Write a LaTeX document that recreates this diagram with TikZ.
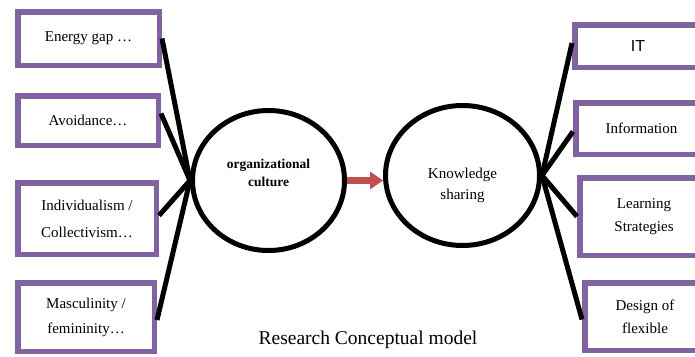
\documentclass[tikz,border=0pt]{standalone}
\usepackage{fontspec}
\setmainfont{Liberation Serif}
\newfontfamily\itfont{Liberation Sans}
\usetikzlibrary{shapes.geometric,arrows.meta,calc}
\definecolor{boxpurple}{HTML}{8064A2}
\definecolor{arrowred}{HTML}{C0504D}
\begin{document}
\begin{tikzpicture}[x=1pt,y=-1pt,
  box/.style={draw=boxpurple,line width=5.5pt,inner sep=0pt,align=center,font=\fontsize{15}{25}\selectfont},
  circ/.style={draw=black,ellipse,line width=5pt,inner sep=0pt},
  link/.style={line width=5pt,black},
  flow/.style={line width=7pt,arrowred,-{Triangle[length=13pt,width=17pt]}}
]
\useasboundingbox (0,0) rectangle (695,356);
\clip (0,0) rectangle (695,356);
% left boxes
\node[box,minimum width=141.5pt,minimum height=53.5pt] (b1) at (88.5,38.5) {Energy gap …};
\node[box,minimum width=140.5pt,minimum height=49.5pt] (b2) at (88,120.5) {Avoidance…};
\node[box,minimum width=138.5pt,minimum height=71.5pt,font=\fontsize{15}{27}\selectfont] (b3) at (87,218.5) {Individualism /\\Collectivism…};
\node[box,minimum width=136.5pt,minimum height=68.5pt] (b4) at (86,317) {Masculinity /\\femininity…};
% right boxes
\node[box,minimum width=126.5pt,minimum height=42.5pt,font=\itfont\fontsize{16}{20}\selectfont] (r1) at (638,46) {IT};
\node[box,minimum width=131.5pt,minimum height=51.5pt] (r2) at (641.5,128.5) {Information};
\node[box,minimum width=128.5pt,minimum height=77.5pt,font=\fontsize{15}{23}\selectfont] (r3) at (644,216.5) {Learning\\Strategies};
\node[box,minimum width=120.5pt,minimum height=67.5pt,font=\fontsize{15}{23}\selectfont] (r4) at (645,316.5) {Design of\\flexible};
% circles
\node[circ,minimum width=152pt,minimum height=140pt] (oc) at (268.5,180.5) {};
\node[circ,minimum width=154pt,minimum height=140pt] (ks) at (462.5,175.5) {};
\node[align=center,inner sep=0pt,font=\fontsize{13.5}{18}\selectfont\bfseries] (octxt) at ([yshift=8pt]oc.center) {organizational\\culture};
\node[align=center,inner sep=0pt,font=\fontsize{15}{21}\selectfont] (kstxt) at ([yshift=-10pt]ks.center) {Knowledge\\sharing};
% connectors
\draw[link] (b1.east) -- (oc.west);
\draw[link] ([yshift=7pt]b2.east) -- (oc.west);
\draw[link] ([yshift=3pt]b3.east) -- (oc.west);
\draw[link] ([yshift=-3pt]b4.east) -- (oc.west);
\draw[link] ([yshift=3pt]r1.west) -- (ks.east);
\draw[link] ([yshift=-3pt]r2.west) -- (ks.east);
\draw[link] (r3.west) -- (ks.east);
\draw[link] ([yshift=-3pt]r4.west) -- (ks.east);
\draw[flow] (oc.east) -- (oc.east -| ks.west);
% title
\node[font=\fontsize{19.5}{24}\selectfont] (title) at (368,340) {Research Conceptual model};
\end{tikzpicture}
\end{document}
